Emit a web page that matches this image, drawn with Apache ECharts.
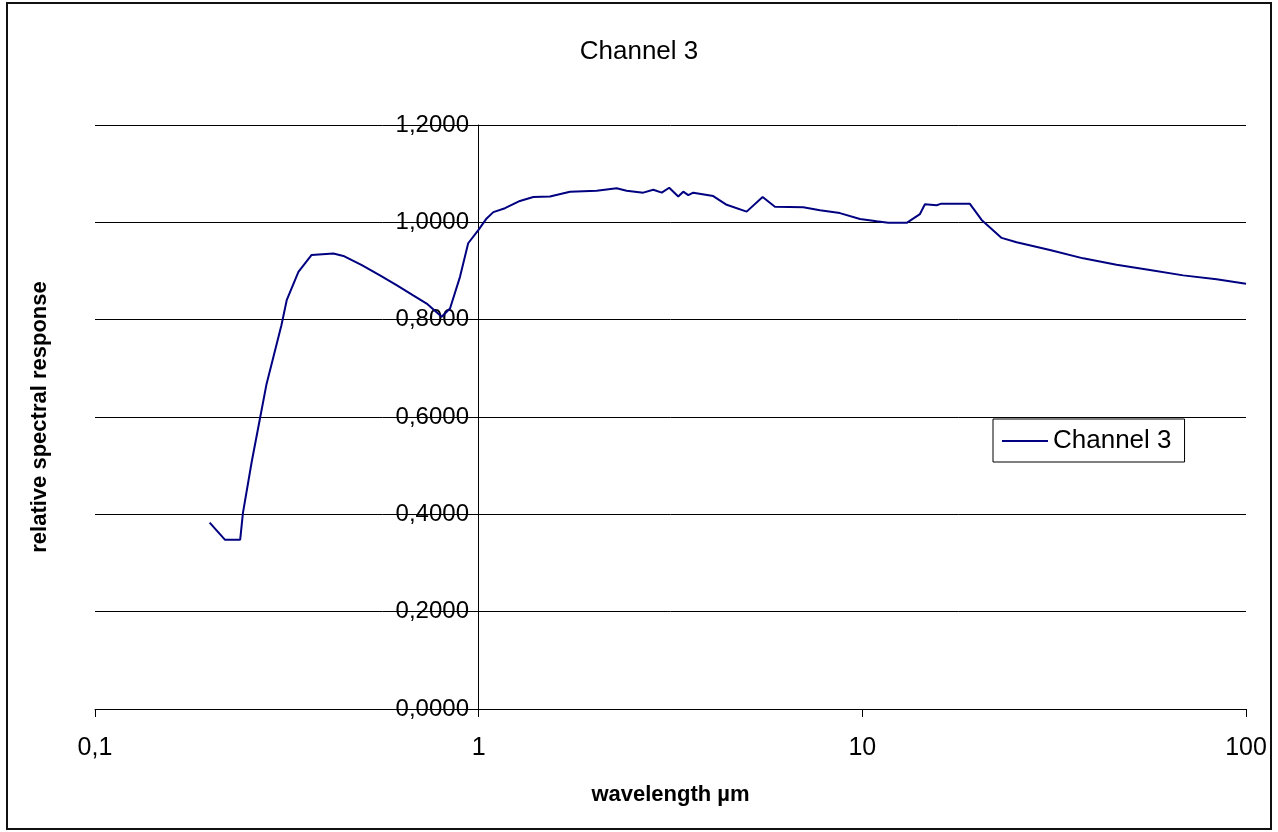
<!DOCTYPE html>
<html>
<head>
<meta charset="utf-8">
<script src="https://cdn.jsdelivr.net/npm/echarts@6/dist/echarts.min.js"></script>
<style>
html, body { margin: 0; padding: 0; background: #fff; }
#chart { width: 1278px; height: 832px; }
</style>
</head>
<body>
<div id="chart"></div>
<script>
// Channel 3 relative spectral response versus wavelength (µm)
const wavelengths = [
  0.199, 0.218, 0.239, 0.243, 0.256, 0.269, 0.280, 0.306, 0.316, 0.339,
  0.367, 0.418, 0.444, 0.496, 0.553, 0.611, 0.675, 0.732, 0.801, 0.842,
  0.894, 0.939, 0.998, 1.049, 1.092, 1.171, 1.281, 1.388, 1.534, 1.73,
  2.03, 2.289, 2.43, 2.685, 2.852, 3.0, 3.138, 3.313, 3.414, 3.518,
  3.625, 4.087, 4.43, 4.994, 5.497, 5.918, 7.015, 7.754, 8.74, 9.86,
  10.9, 11.68, 13.05, 14.13, 14.56, 15.62, 16.0, 19.07, 20.46, 23.07,
  25.24, 30.83, 37.64, 45.98, 56.17, 68.6, 83.8, 100
];
const response = [
  0.383, 0.348, 0.348, 0.403, 0.507, 0.596, 0.668, 0.788, 0.840, 0.898,
  0.933, 0.936, 0.931, 0.912, 0.891, 0.871, 0.850, 0.833, 0.806, 0.823,
  0.888, 0.957, 0.984, 1.008, 1.021, 1.029, 1.044, 1.052, 1.053, 1.063,
  1.065, 1.070, 1.065, 1.061, 1.067, 1.061, 1.071, 1.053, 1.063, 1.056,
  1.061, 1.054, 1.036, 1.022, 1.052, 1.032, 1.031, 1.025, 1.019, 1.007,
  1.002, 0.999, 0.999, 1.017, 1.037, 1.035, 1.038, 1.038, 1.005, 0.968,
  0.959, 0.943, 0.926, 0.913, 0.902, 0.891, 0.883, 0.874
];
const xTickLabels = { 0.1: '0,1', 1: '1', 10: '10', 100: '100' };
const seriesName = 'Channel 3';

const FONT = '"Liberation Sans", Arial, sans-serif';
const points = wavelengths.map((w, i) => [w, response[i]]);

const chart = echarts.init(document.getElementById('chart'), null, { renderer: 'canvas' });
chart.setOption({
  animation: false,
  backgroundColor: '#fff',
  title: {
    text: 'Channel 3',
    left: 'center',
    top: 34,
    textStyle: { fontFamily: FONT, fontSize: 26, fontWeight: 'normal', color: '#000' }
  },
  legend: {
    data: [seriesName],
    left: 993,
    top: 419,
    orient: 'vertical',
    icon: 'rect',
    itemWidth: 46,
    itemHeight: 2,
    padding: [9, 13, 8, 9],
    borderColor: '#000',
    borderWidth: 1,
    backgroundColor: '#fff',
    textStyle: { fontFamily: FONT, fontSize: 26, color: '#000' }
  },
  grid: { left: 95, right: 32, top: 125, bottom: 123, containLabel: false },
  xAxis: {
    type: 'log',
    logBase: 10,
    min: 0.1,
    max: 100,
    name: 'wavelength µm',
    nameLocation: 'middle',
    nameGap: 75,
    nameTextStyle: { fontFamily: FONT, fontSize: 22, fontWeight: 'bold', color: '#000' },
    axisLine: { show: true, lineStyle: { color: '#000', width: 1 } },
    axisTick: { show: true, length: 8, lineStyle: { color: '#000' } },
    minorTick: { show: false },
    splitLine: { show: false },
    axisLabel: {
      margin: 27,
      fontFamily: FONT,
      fontSize: 25,
      color: '#000',
      formatter: v => xTickLabels[+v.toPrecision(6)] ?? String(v)
    }
  },
  yAxis: {
    type: 'value',
    min: 0,
    max: 1.2,
    interval: 0.2,
    position: 'left',
    offset: -383,
    name: 'relative spectral response',
    nameLocation: 'middle',
    nameGap: 427,
    nameRotate: 90,
    nameTextStyle: { fontFamily: FONT, fontSize: 22, fontWeight: 'bold', color: '#000' },
    axisLine: { show: true, lineStyle: { color: '#000', width: 1 } },
    axisTick: { show: true, length: 8, lineStyle: { color: '#000' } },
    splitLine: { show: true, lineStyle: { color: '#000', width: 1 } },
    axisLabel: {
      margin: 9,
      fontFamily: FONT,
      fontSize: 24,
      color: '#000',
      formatter: v => v.toFixed(4).replace('.', ',')
    }
  },
  graphic: [{
    type: 'rect',
    shape: { x: 7, y: 3, width: 1264, height: 826 },
    style: { fill: 'none', stroke: '#111', lineWidth: 2 },
    silent: true,
    z: 100
  }],
  series: [{
    name: seriesName,
    type: 'line',
    data: points,
    showSymbol: false,
    symbol: 'none',
    lineStyle: { color: '#000080', width: 2 },
    itemStyle: { color: '#000080' },
    smooth: false
  }]
});
</script>
</body>
</html>
